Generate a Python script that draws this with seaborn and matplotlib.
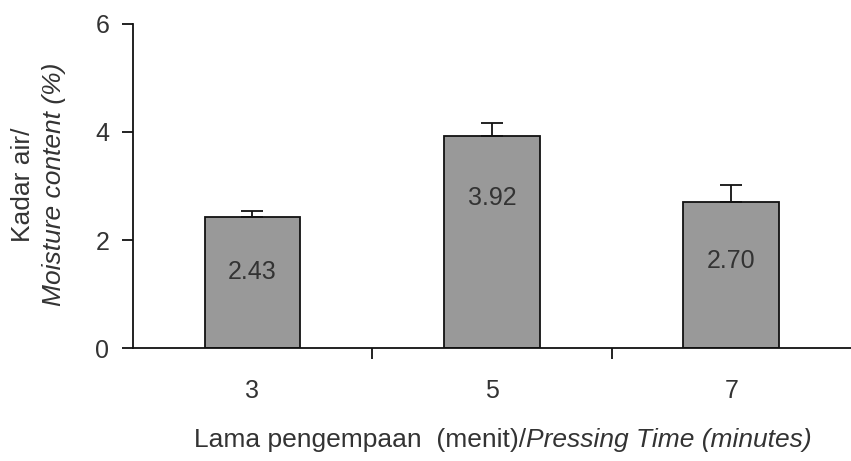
import matplotlib
matplotlib.use("Agg")
import matplotlib.pyplot as plt
import seaborn as sns
import pandas as pd
from matplotlib.ticker import FixedLocator

# Data
pressing_time = ["3", "5", "7"]
moisture = [2.43, 3.92, 2.70]
moisture_err = [0.11, 0.25, 0.31]
value_labels = ["2.43", "3.92", "2.70"]

sns.set_style("white")
plt.rcParams["font.family"] = ["Liberation Sans", "DejaVu Sans"]

TEXT = "#333333"
FS = 18
LFS = 19

df = pd.DataFrame({"time": pressing_time, "moisture": moisture})

fig = plt.figure(figsize=(8.51, 4.61), dpi=100)
ax = fig.add_axes([0.156, 0.245, 0.844, 0.703])

sns.barplot(data=df, x="time", y="moisture", color="#999999",
            saturation=1, edgecolor="#111111", linewidth=1.3,
            width=0.4, errorbar=None, ax=ax)

xpos = range(len(pressing_time))
ax.errorbar(xpos, moisture, yerr=[[0] * len(moisture), moisture_err],
            fmt="none", ecolor="#111111", elinewidth=1.3, capsize=8,
            capthick=1.3, zorder=1)

# value labels inside the bars
frac = [0.58, 0.71, 0.60]
for i, (v, lab) in enumerate(zip(moisture, value_labels)):
    ax.text(i, v * frac[i], lab, ha="center", va="center",
            fontsize=FS, color=TEXT)

ax.set_xlim(-0.5, 2.5)
ax.set_ylim(0, 6)
ax.set_yticks([0, 2, 4, 6])
ax.set_xlabel("")
ax.set_ylabel("")

for side in ["top", "right"]:
    ax.spines[side].set_visible(False)
for side in ["left", "bottom"]:
    ax.spines[side].set_color("#111111")
    ax.spines[side].set_linewidth(1.3)

ax.tick_params(axis="y", direction="out", length=8, width=1.3,
               colors="#111111", labelcolor=TEXT, labelsize=FS, pad=9, left=True)
ax.tick_params(axis="x", which="major", length=0, labelsize=FS,
               labelcolor=TEXT, pad=22)
ax.xaxis.set_minor_locator(FixedLocator([0.5, 1.5]))
ax.tick_params(axis="x", which="minor", direction="out", length=8,
               width=1.3, color="#111111", bottom=True)

# y label (two lines, second italic)
fig.text(0.027, 0.60, "Kadar air/", rotation=90, ha="center", va="center",
         fontsize=LFS, color=TEXT)
fig.text(0.064, 0.60, "Moisture content (%)", rotation=90, ha="center",
         va="center", fontsize=LFS, color=TEXT, style="italic")

# x label (mixed styles)
fig.text(0.618, 0.045, "Lama pengempaan  (menit)/", ha="right", va="center",
         fontsize=LFS, color=TEXT)
fig.text(0.618, 0.045, "Pressing Time (minutes)", ha="left", va="center",
         fontsize=LFS, color=TEXT, style="italic")

fig.savefig("out.png", dpi=100)
